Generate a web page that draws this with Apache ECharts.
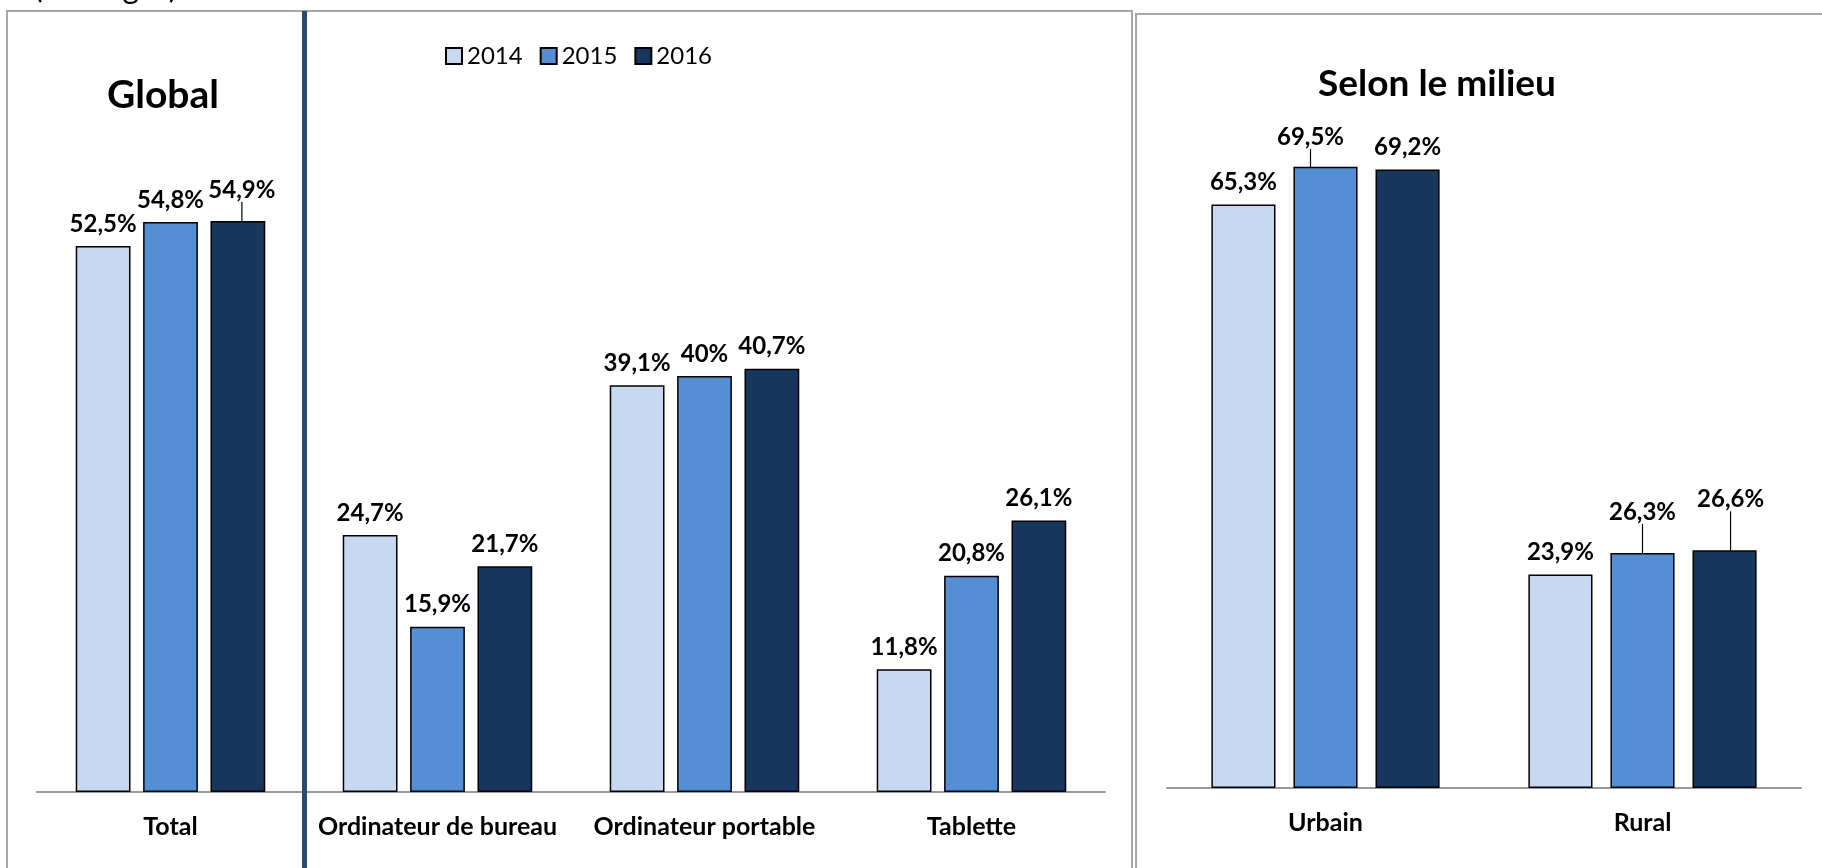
<!DOCTYPE html>
<html>
<head>
<meta charset="utf-8">
<script src="https://cdn.jsdelivr.net/npm/echarts@6/dist/echarts.min.js"></script>
<style>
html,body{margin:0;padding:0;background:#fff;}
#chart{width:1822px;height:868px;}
</style>
</head>
<body>
<div id="chart"></div>
<script>
// ---- data ----
const years = ['2014', '2015', '2016'];
const globalCategories = ['Total', 'Ordinateur de bureau', 'Ordinateur portable', 'Tablette'];
const global2014 = [52.5, 24.7, 39.1, 11.8];
const global2015 = [54.8, 15.9, 40.0, 20.8];
const global2016 = [54.9, 21.7, 40.7, 26.1];
const milieuCategories = ['Urbain', 'Rural'];
const milieu2014 = [65.3, 23.9];
const milieu2015 = [69.5, 26.3];
const milieu2016 = [69.2, 26.6];
const titleGlobal = 'Global';
const titleMilieu = 'Selon le milieu';
const topNote = '(Ménages)';

// ---- styling / layout ----
const colors = ['#C6D9F1', '#558ED5', '#17375E'];
const FONT = 'Lato, Carlito, "Open Sans", sans-serif';
// label displacements with leader lines: key = seriesIndex-dataIndex
const leaderOffsets = {
  '2-0': [4, -9],
  '4-0': [-15, -8],
  '4-1': [0, -19],
  '5-1': [6, -29]
};

function fmt(v) {
  return String(v).replace('.', ',') + '%';
}

function buildSeries(name, values, gridIdx, seriesIndex, colorIdx, gapCfg) {
  return {
    name: name,
    type: 'bar',
    xAxisIndex: gridIdx,
    yAxisIndex: gridIdx,
    barGap: gapCfg.barGap,
    barCategoryGap: gapCfg.barCategoryGap,
    itemStyle: { color: colors[colorIdx], borderColor: '#000', borderWidth: 1.5 },
    label: {
      show: true,
      position: 'top',
      distance: 10,
      formatter: p => fmt(p.value),
      fontFamily: FONT,
      fontWeight: 'bold',
      fontSize: 24,
      color: '#000'
    },
    labelLine: { show: false, lineStyle: { color: '#000', width: 1.2 } },
    labelLayout: function (params) {
      const o = leaderOffsets[seriesIndex + '-' + params.dataIndex];
      return o ? { dx: o[0], dy: o[1] } : {};
    },
    data: values.map((v, i) => {
      const has = !!leaderOffsets[seriesIndex + '-' + i];
      return has ? { value: v, labelLine: { show: true, lineStyle: { color: '#000', width: 1.2 } } } : v;
    })
  };
}

const leftGap = { barGap: '23%', barCategoryGap: '29%' };
const rightGap = { barGap: '28%', barCategoryGap: '28%' };

const chart = echarts.init(document.getElementById('chart'), null, { renderer: 'canvas' });

const axisCommon = {
  type: 'category',
  axisTick: { show: false },
  axisLine: { show: true, lineStyle: { color: '#999', width: 2 } },
  axisLabel: { fontFamily: FONT, fontWeight: 'bold', fontSize: 25, color: '#000', margin: 22, interval: 0 }
};

const option = {
  backgroundColor: '#fff',
  animation: false,
  legend: {
    data: years,
    left: 440,
    top: 39,
    itemWidth: 16,
    itemHeight: 16,
    itemGap: 17,
    icon: 'rect',
    textStyle: { fontFamily: FONT, fontSize: 24, color: '#000' }
  },
  grid: [
    { left: 37, top: 64, width: 1068, height: 728 },
    { left: 1167, top: 73, width: 634, height: 715 }
  ],
  xAxis: [
    Object.assign({ gridIndex: 0, data: globalCategories }, axisCommon),
    Object.assign({ gridIndex: 1, data: milieuCategories }, axisCommon)
  ],
  yAxis: [
    { type: 'value', gridIndex: 0, min: 0, max: 70, show: false, splitLine: { show: false } },
    { type: 'value', gridIndex: 1, min: 0, max: 80, show: false, splitLine: { show: false } }
  ],
  series: [
    buildSeries(years[0], global2014, 0, 0, 0, leftGap),
    buildSeries(years[1], global2015, 0, 1, 1, leftGap),
    buildSeries(years[2], global2016, 0, 2, 2, leftGap),
    buildSeries(years[0], milieu2014, 1, 3, 0, rightGap),
    buildSeries(years[1], milieu2015, 1, 4, 1, rightGap),
    buildSeries(years[2], milieu2016, 1, 5, 2, rightGap)
  ],
  graphic: [
    { type: 'rect', z: -10, shape: { x: 7, y: 11, width: 1125, height: 900 },
      style: { fill: 'none', stroke: '#a6a6a6', lineWidth: 2 } },
    { type: 'rect', z: -10, shape: { x: 1136, y: 14, width: 700, height: 900 },
      style: { fill: 'none', stroke: '#a6a6a6', lineWidth: 2 } },
    { type: 'rect', z: 5, shape: { x: 302, y: 11, width: 5, height: 870 },
      style: { fill: '#2b4a6f' } },
    { type: 'text', x: 163, y: 95, style: { text: titleGlobal, fontFamily: FONT, fontWeight: 'bold', fontSize: 39, fill: '#000', align: 'center', verticalAlign: 'middle' } },
    { type: 'text', x: 1437, y: 84, style: { text: titleMilieu, fontFamily: FONT, fontWeight: 'bold', fontSize: 37, fill: '#000', align: 'center', verticalAlign: 'middle' } },
    { type: 'text', x: 34, y: 4, style: { text: topNote, fontFamily: FONT, fontSize: 32, fill: '#000', align: 'left', verticalAlign: 'bottom' } }
  ]
};

chart.setOption(option);
</script>
</body>
</html>
